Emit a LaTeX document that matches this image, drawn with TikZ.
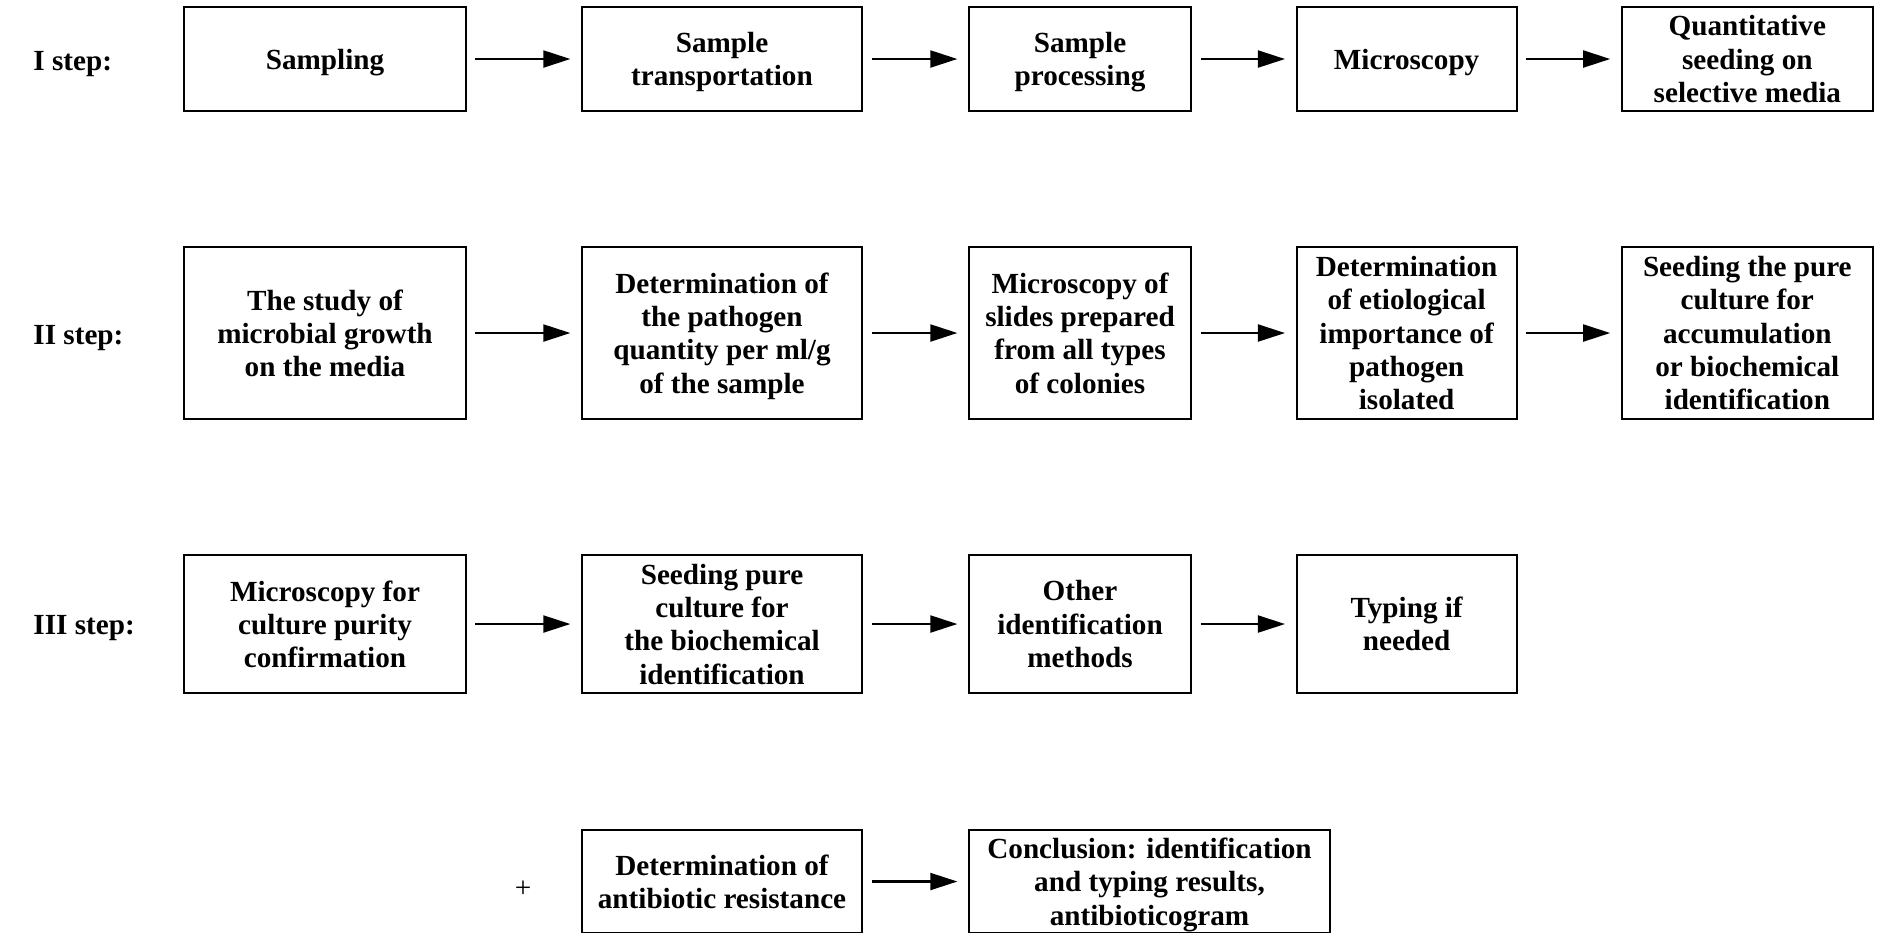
\documentclass[tikz,border=0pt]{standalone}
\usepackage{fontspec}
\setmainfont{Liberation Serif}
\usetikzlibrary{arrows.meta}

\begin{document}
\begin{tikzpicture}[x=0.01cm, y=-0.01cm,
    box/.style={draw, line width=0.55pt, align=center, inner sep=1pt,
      font=\fontsize{8.3}{9.45}\selectfont\bfseries, text depth=-0.5pt},
    steplabel/.style={anchor=west, font=\fontsize{8.3}{9.45}\selectfont\bfseries},
    flow/.style={-{Triangle[length=7.7pt,width=4.8pt]}, line width=0.7pt,
      shorten <=2.5pt, shorten >=3pt},
    colA/.style={minimum width=2.81cm}, colB/.style={minimum width=2.8cm},
    colC/.style={minimum width=2.22cm}, colD/.style={minimum width=2.2cm},
    colE/.style={minimum width=2.51cm}]
  \useasboundingbox (0,0) rectangle (1877,932);

  % I step
  \node[steplabel] (lab1) at (21,64) {I step:};
  \node[box, colA, minimum height=1.034cm] (samp) at (325,59) {Sampling};
  \node[box, colB, minimum height=1.034cm] (transp) at (722,59) {Sample\\transportation};
  \node[box, colC, minimum height=1.034cm] (proc) at (1080,59) {Sample\\processing};
  \node[box, colD, minimum height=1.034cm] (micro) at (1406.6,59) {Microscopy};
  \node[box, colE, minimum height=1.034cm] (quant) at (1747.3,59) {Quantitative\\seeding on\\selective media};

  \draw[flow] (samp) -- (transp);
  \draw[flow] (transp) -- (proc);
  \draw[flow] (proc) -- (micro);
  \draw[flow] (micro) -- (quant);

  % II step
  \node[steplabel] (lab2) at (21,338) {II step:};
  \node[box, colA, minimum height=1.717cm, text depth=-1.2pt] (growth) at (325,333) {The study of\\microbial growth\\on the media};
  \node[box, colB, minimum height=1.717cm, text depth=-1.2pt] (qty) at (722,333) {Determination of\\the pathogen\\quantity per ml/g\\of the sample};
  \node[box, colC, minimum height=1.717cm, text depth=-1.2pt] (slides) at (1080,333) {Microscopy of\\slides prepared\\from all types\\of colonies};
  \node[box, colD, minimum height=1.717cm, text depth=-1.2pt] (etiol) at (1406.6,333) {Determination\\of etiological\\importance of\\pathogen\\isolated};
  \node[box, colE, minimum height=1.717cm, text depth=-1.2pt] (pure) at (1747.3,333) {Seeding the pure\\culture for\\accumulation\\or biochemical\\identification};

  \draw[flow] (growth) -- (qty);
  \draw[flow] (qty) -- (slides);
  \draw[flow] (slides) -- (etiol);
  \draw[flow] (etiol) -- (pure);

  % III step
  \node[steplabel] (lab3) at (21,628) {III step:};
  \node[box, colA, minimum height=1.374cm] (purity) at (325,624) {Microscopy for\\culture purity\\confirmation};
  \node[box, colB, minimum height=1.374cm] (biochem) at (722,624) {Seeding pure\\culture for\\the biochemical\\identification};
  \node[box, colC, minimum height=1.374cm] (other) at (1080,624) {Other\\identification\\methods};
  \node[box, colD, minimum height=1.374cm] (typing) at (1406.6,624) {Typing if\\needed};

  \draw[flow] (purity) -- (biochem);
  \draw[flow] (biochem) -- (other);
  \draw[flow] (other) -- (typing);

  % antibiotic resistance and conclusion
  \node[font=\fontsize{8.3}{9.45}\selectfont] (plus) at (523,889) {+};
  \node[box, colB, minimum height=1.03cm] (resist) at (722,881.5) {Determination of\\antibiotic resistance};
  \node[box, minimum width=3.61cm, minimum height=1.03cm] (concl) at (1149.5,881.5) {Conclusion: identification\\and typing results,\\antibioticogram};

  \draw[flow] (resist) -- (concl);
\end{tikzpicture}
\end{document}
